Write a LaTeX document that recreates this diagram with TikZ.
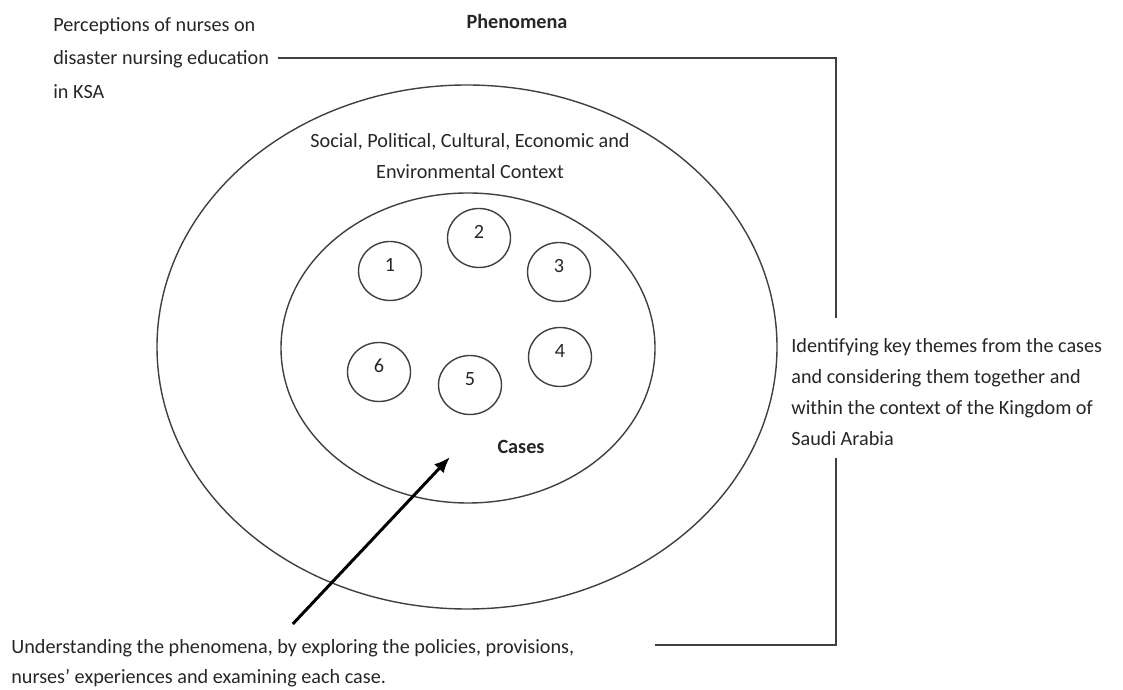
\documentclass[tikz,border=0pt]{standalone}
\usepackage{fontspec}
\setmainfont{Carlito}
\usepackage{tikz}
\usetikzlibrary{arrows, arrows.meta, positioning, shapes.geometric}

\begin{document}
\begin{tikzpicture}[
    every node/.style={font=\fontsize{11.5pt}{18pt}\selectfont, text=black!85, inner sep=0pt},
    ring/.style={ellipse, draw=black!75, line width=.8pt},
    case/.style={ellipse, draw=black!75, line width=.8pt, minimum width=1.26cm, minimum height=1.18cm, text height=7pt, text depth=6pt},
    bracket/.style={draw=black!75, line width=.8pt},
    probe/.style={-{Latex[length=3.2mm,width=2.6mm]}, line width=1.7pt, black}
  ]
      \useasboundingbox (0,0) rectangle (22.46,13.8);

      %% the context rings
      \node (context) [ring, minimum width=12.4cm, minimum height=10.48cm] at (9.34,6.86) {};
      \node (inner) [ring, minimum width=7.48cm, minimum height=6.2cm] at (9.36,6.84) {};

      %% the six cases
      \node (c1) [case] at (7.80,8.38) {1};
      \node (c2) [case] at (9.58,9.04) {2};
      \node (c3) [case] at (11.18,8.36) {3};
      \node (c4) [case] at (11.20,6.66) {4};
      \node (c5) [case] at (9.40,6.10) {5};
      \node (c6) [case] at (7.58,6.36) {6};

      \node (phen) at (10.34,13.38) {\bfseries Phenomena};
      \node (ctx) [align=center, font=\fontsize{11.5pt}{18pt}\selectfont] at (9.40,10.68) {Social, Political, Cultural, Economic and\\ Environmental Context};
      \node (cases) at (10.42,4.86) {\bfseries Cases};

      \node (perc) [anchor=west, align=left, font=\fontsize{11.5pt}{19pt}\selectfont] at (1.06,12.64) {Perceptions of nurses on\\ disaster nursing education\\ in KSA};
      \node (themes) [anchor=west, align=left, font=\fontsize{11.5pt}{17.6pt}\selectfont] at (15.82,5.96) {Identifying key themes from the cases\\ and considering them together and\\ within the context of the Kingdom of\\ Saudi Arabia};
      \node (under) [anchor=west, align=left, font=\fontsize{11.5pt}{17pt}\selectfont] at (0.22,0.54) {Understanding the phenomena, by exploring the policies, provisions,\\ nurses' experiences and examining each case.};

      \coordinate (gap top) at (16.72,7.44);
      \coordinate (gap bot) at (16.72,4.64);
      \coordinate (under end) at (13.10,0.90);
      \coordinate (focus) at (9.00,4.66);

      \draw[bracket] ([xshift=.18cm]perc.east) -| (gap top);
      \draw[bracket] (gap bot) |- (under end);
      \draw[probe] ([yshift=.3cm]under.north) -- (focus);

    \end{tikzpicture}
\end{document}
